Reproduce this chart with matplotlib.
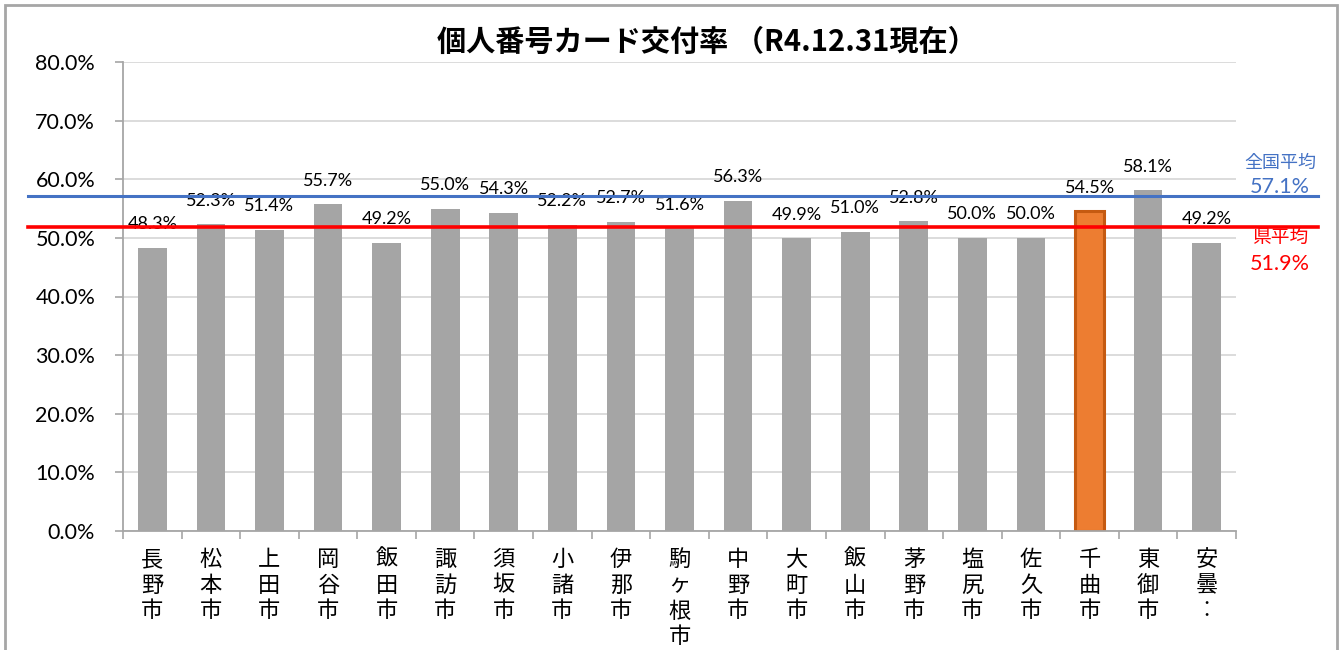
import matplotlib
matplotlib.use("Agg")
import matplotlib.pyplot as plt
import matplotlib.patches as mpatches
import matplotlib.lines as mlines
from matplotlib.transforms import blended_transform_factory
import numpy as np

plt.rcParams['font.family'] = ['Lato', 'Noto Sans CJK JP', 'DejaVu Sans']

# ---- data ----
cities = ["長野市", "松本市", "上田市", "岡谷市", "飯田市", "諏訪市", "須坂市", "小諸市",
          "伊那市", "駒ヶ根市", "中野市", "大町市", "飯山市", "茅野市", "塩尻市", "佐久市",
          "千曲市", "東御市", "安曇野市"]
tick_labels = ["長野市", "松本市", "上田市", "岡谷市", "飯田市", "諏訪市", "須坂市", "小諸市",
               "伊那市", "駒ヶ根市", "中野市", "大町市", "飯山市", "茅野市", "塩尻市", "佐久市",
               "千曲市", "東御市", "安曇︰"]
rates = [48.3, 52.3, 51.4, 55.7, 49.2, 55.0, 54.3, 52.2, 52.7, 51.6, 56.3, 49.9, 51.0,
         52.8, 50.0, 50.0, 54.5, 58.1, 49.2]
highlight = "千曲市"
national_avg = 57.1
pref_avg = 51.9
y_ticks = [0, 10, 20, 30, 40, 50, 60, 70, 80]
title = "個人番号カード交付率 （R4.12.31現在）"

# ---- figure ----
W, H = 1344, 650
fig = plt.figure(figsize=(W / 100, H / 100), dpi=100)
fig.patch.set_facecolor("white")

def fx(px):
    return px / W

def fy(py):
    return 1 - py / H

ax = fig.add_axes([fx(123), fy(531), fx(1236) - fx(123), fy(62) - fy(531)])

x = np.arange(len(cities))
colors = ["#ED7D31" if c == highlight else "#A5A5A5" for c in cities]
edges = ["#C55A11" if c == highlight else "#A5A5A5" for c in cities]
lws = [2.2 if c == highlight else 0 for c in cities]
ax.bar(x, rates, width=0.49, color=colors, edgecolor=edges, linewidth=lws, zorder=2)

for xi, v in zip(x, rates):
    ax.annotate(f"{v:.1f}%", (xi, v), xytext=(0, 17), textcoords="offset points",
                ha="center", va="center", fontsize=13, color="#000000", zorder=3)

ax.set_xlim(-0.5, len(cities) - 0.5)
ax.set_ylim(0, 80)
ax.set_yticks(y_ticks)
ax.set_yticklabels([f"{t:.1f}%" for t in y_ticks], fontsize=15.5)
ax.yaxis.grid(True, color="#D9D9D9", linewidth=1.3, zorder=0)
ax.set_axisbelow(True)

# x ticks at category boundaries, labels at centers
ax.set_xticks(np.arange(len(cities) + 1) - 0.5)
ax.set_xticklabels([])
ax.set_xticks(x, minor=True)
ax.set_xticklabels(["\n".join(list(t)) for t in tick_labels], minor=True,
                   fontsize=16, linespacing=1.16, va="top",
                   family=['Noto Sans CJK JP', 'DejaVu Sans'])
ax.tick_params(axis="x", which="major", length=6, color="#A6A6A6", width=1.2)
ax.tick_params(axis="x", which="minor", length=0, pad=12)
ax.tick_params(axis="y", length=6, color="#A6A6A6", width=1.2, pad=14)

for s in ["top", "right"]:
    ax.spines[s].set_visible(False)
for s in ["left", "bottom"]:
    ax.spines[s].set_color("#A6A6A6")
    ax.spines[s].set_linewidth(1.3)

# average lines across the chart area
tr = blended_transform_factory(fig.transFigure, ax.transData)
ax.add_line(mlines.Line2D([fx(28), fx(1318)], [national_avg, national_avg], transform=tr,
                          color="#4472C4", linewidth=2.2, zorder=5, clip_on=False))
ax.add_line(mlines.Line2D([fx(28), fx(1318)], [pref_avg, pref_avg], transform=tr,
                          color="#FF0000", linewidth=2.6, zorder=5, clip_on=False))

ax.annotate("全国平均", (fx(1280), national_avg), xycoords=tr, xytext=(0, 24),
            textcoords="offset points", ha="center", va="center", fontsize=13,
            color="#4472C4", family=['Noto Sans CJK JP'], annotation_clip=False)
ax.annotate(f"{national_avg:.1f}%", (fx(1280), national_avg), xycoords=tr, xytext=(0, 7),
            textcoords="offset points", ha="center", va="center", fontsize=15.5,
            color="#4472C4", annotation_clip=False)
ax.annotate("県平均", (fx(1280), pref_avg), xycoords=tr, xytext=(0, -8),
            textcoords="offset points", ha="center", va="center", fontsize=13.5,
            color="#FF0000", family=['Noto Sans CJK JP'], annotation_clip=False)
ax.annotate(f"{pref_avg:.1f}%", (fx(1280), pref_avg), xycoords=tr, xytext=(0, -27),
            textcoords="offset points", ha="center", va="center", fontsize=15.5,
            color="#FF0000", annotation_clip=False)

fig.text(fx(707), fy(42), title, ha="center", va="center", fontsize=21,
         fontweight="bold", family=['Noto Sans CJK JP', 'DejaVu Sans'])

# outer chart frame
fig.patches.append(mpatches.Rectangle((fx(5), fy(660)), fx(1337) - fx(5), fy(5) - fy(660),
                                      transform=fig.transFigure, fill=False,
                                      edgecolor="#A6A6A6", linewidth=2, clip_on=False))

fig.savefig("out.png", dpi=100, facecolor="white")
